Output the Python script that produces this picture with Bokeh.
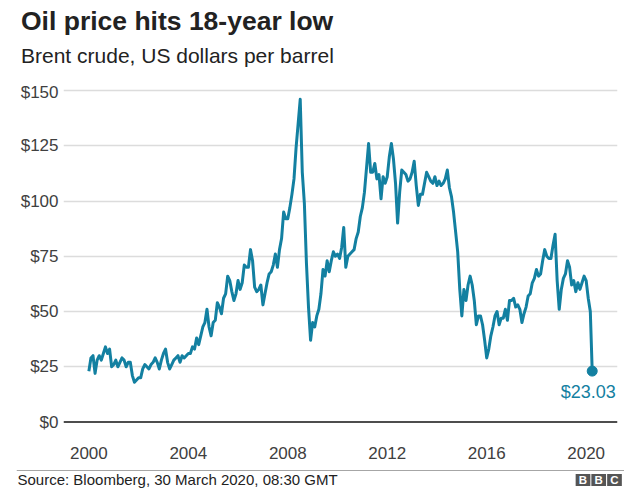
from datetime import date
from bokeh.plotting import figure
from bokeh.layouts import column
from bokeh.models import Range1d, FixedTicker, Span, Label, PrintfTickFormatter
from bokeh.embed import file_html
from bokeh.resources import INLINE

# ---------------- data (Brent crude, US$ per barrel, monthly from Jan 2000) ----------------
start_year = 2000
prices = [
    23, 29, 30, 22, 28, 30, 28, 31, 34, 31, 33, 25,        # 2000
    26, 28, 25, 27, 29, 28, 25, 27, 27, 21, 18, 19,        # 2001
    20, 20, 24, 26, 25, 24, 26, 27, 29, 27, 24, 28,        # 2002
    31, 33, 27, 24, 26, 28, 29, 30, 27, 30, 29, 30,        # 2003
    31, 31, 34, 33, 38, 35, 39, 43, 45, 51, 43, 39,        # 2004
    45, 46, 54, 52, 49, 56, 58, 66, 64, 59, 55, 58,        # 2005
    64, 60, 63, 71, 70, 70, 78, 73, 61, 59, 60, 62,        # 2006
    53, 58, 63, 67, 68, 71, 76, 70, 78, 83, 95, 92,        # 2007
    92, 97, 103, 110, 124, 135, 146, 113, 99, 72, 52, 37,  # 2008
    45, 43, 48, 51, 58, 69, 66, 73, 68, 73, 77, 75,        # 2009
    76, 74, 79, 88, 70, 75, 76, 77, 78, 83, 86, 93,        # 2010
    97, 104, 115, 126, 113, 113, 117, 110, 112, 101, 111, 108,  # 2011
    111, 120, 126, 119, 108, 90, 104, 114, 113, 112, 109, 110,  # 2012
    113, 118, 107, 98, 103, 103, 108, 113, 111, 109, 108, 111,  # 2013
    107, 109, 107, 108, 110, 114, 106, 102, 95, 86, 77, 60,     # 2014
    48, 60, 55, 62, 66, 62, 55, 44, 48, 48, 44, 37,        # 2015
    29, 33, 39, 43, 48, 50, 44, 47, 47, 51, 46, 55,        # 2016
    55, 56, 52, 53, 51, 45, 49, 52, 57, 58, 63, 65,        # 2017
    69, 66, 67, 73, 78, 75, 74, 74, 80, 85, 64, 51,        # 2018
    60, 65, 67, 73, 70, 62, 64, 59, 63, 60, 63, 66,        # 2019
    64, 56, 50,                                            # 2020
]
last_date = date(2020, 3, 30)
last_price = 23.03

y_ticks = [0, 25, 50, 75, 100, 125, 150]
x_ticks = [2000, 2004, 2008, 2012, 2016, 2020]

title_text = "Oil price hits 18-year low"
subtitle_text = "Brent crude, US dollars per barrel"
source_text = "Source: Bloomberg, 30 March 2020, 08:30 GMT"
last_label = "$23.03"
logo_letters = ["B", "B", "C"]

# ---------------- derived x values ----------------
xs = [start_year + i / 12 for i in range(len(prices))]
last_x = last_date.year + (last_date.timetuple().tm_yday - 1) / 366
xs.append(last_x)
ys = prices + [last_price]

TEAL = "#1380A1"
FONT = "Liberation Sans"
W = 624


def blank(height, left=0):
    f = figure(width=W, height=height, x_axis_type=None, y_axis_type=None,
               x_range=Range1d(0, 1), y_range=Range1d(0, height),
               toolbar_location=None, output_backend="svg",
               min_border_top=0, min_border_bottom=0,
               min_border_left=left, min_border_right=0)
    f.outline_line_color = None
    f.title.visible = False
    f.grid.visible = False
    f.frame_align = False
    return f


# ---------------- header ----------------
header = blank(82)
header.add_layout(Label(x=20.5, y=61.5, x_units="screen", y_units="screen", text=title_text,
                        text_font=FONT, text_font_size="26.5px", text_font_style="bold",
                        text_color="#222222", text_baseline="alphabetic"))
header.add_layout(Label(x=20.5, y=27.5, x_units="screen", y_units="screen", text=subtitle_text,
                        text_font=FONT, text_font_size="21px",
                        text_color="#222222", text_baseline="alphabetic"))

# ---------------- main chart ----------------
p = figure(width=W, height=386,
           x_range=Range1d(1998.98, 2021.26), y_range=Range1d(-2.94, 153.17),
           output_backend="svg", toolbar_location=None,
           min_border_left=63, min_border_right=7, min_border_top=1, min_border_bottom=40)
p.outline_line_color = None
p.title.visible = False
p.frame_align = False

p.xaxis.ticker = FixedTicker(ticks=x_ticks)
p.xaxis.formatter = PrintfTickFormatter(format="%d")
p.yaxis.ticker = FixedTicker(ticks=y_ticks)
p.yaxis.formatter = PrintfTickFormatter(format="$%d")
for ax in (p.xaxis[0], p.yaxis[0]):
    ax.axis_line_color = None
    ax.major_tick_line_color = None
    ax.minor_tick_line_color = None
    ax.major_tick_out = 0
    ax.major_tick_in = 0
    ax.minor_tick_out = 0
    ax.major_label_text_font = FONT
    ax.major_label_text_font_size = "17px"
    ax.major_label_text_color = "#404040"
p.xaxis.major_label_standoff = 18
p.yaxis.major_label_standoff = 5

p.xgrid.visible = False
p.ygrid.ticker = FixedTicker(ticks=[t for t in y_ticks if t > 0])
p.ygrid.grid_line_color = "#dcdcdc"
p.ygrid.grid_line_width = 1.5

p.add_layout(Span(location=0, dimension="width", line_color="#4d4d4d", line_width=2))

p.line(xs, ys, line_color=TEAL, line_width=3, line_join="round")
p.scatter([last_x], [last_price], size=10, fill_color=TEAL, line_color=TEAL)
p.add_layout(Label(x=last_x, y=last_price, text=last_label, text_align="center",
                   text_baseline="top", y_offset=-11, x_offset=-4, text_font=FONT,
                   text_font_size="18px", text_color=TEAL))

# ---------------- footer ----------------
footer = blank(20, left=16)
footer.add_layout(Span(location=18, dimension="width", line_color="#a6a6a6", line_width=1))
footer.add_layout(Label(x=1, y=9, x_units="screen", y_units="screen", text=source_text,
                        text_font=FONT, text_font_size="15px",
                        text_color="#222222", text_baseline="alphabetic"))
NBSP = "\u00a0"
for cx, letter in zip([566.5, 582.2, 598], logo_letters):
    footer.add_layout(Label(x=cx, y=8.5, x_units="screen", y_units="screen",
                            text=NBSP + letter + NBSP,
                            text_font=FONT, text_font_size="11.5px", text_font_style="bold",
                            text_color="white", text_align="center", text_baseline="middle",
                            background_fill_color="#555555", padding=0))

layout = column(header, p, footer, spacing=0)
open("out.html", "w").write(file_html(layout, INLINE))
